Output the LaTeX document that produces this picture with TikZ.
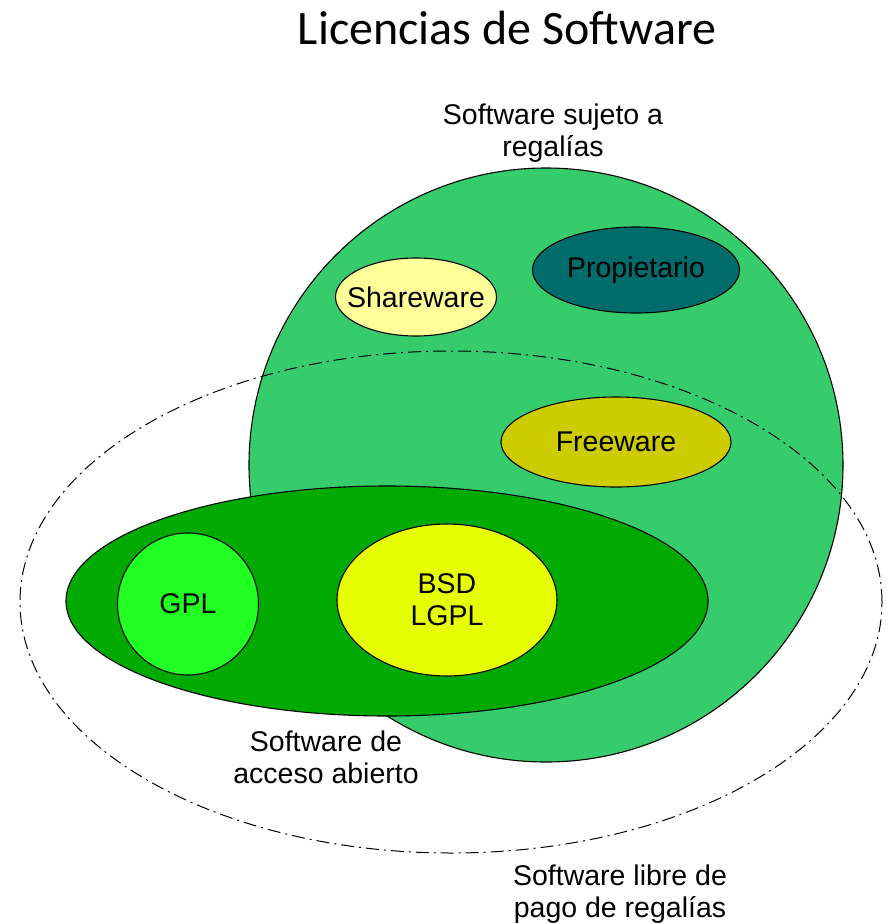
\documentclass[tikz,border=0pt]{standalone}
\usepackage{fontspec}
\setmainfont{Liberation Sans}
\newfontfamily\titlefont{Carlito}
\usetikzlibrary{shapes.geometric}
\definecolor{bigG}{HTML}{36CC6C}
\definecolor{darkG}{HTML}{00AA00}
\definecolor{gplG}{HTML}{22FF22}
\definecolor{bsdY}{HTML}{E5FF00}
\definecolor{freeY}{HTML}{CCCC00}
\definecolor{shareY}{HTML}{FFFF99}
\definecolor{propT}{HTML}{006B6B}
\tikzset{
  blob/.style={ellipse, draw=black, line width=1.1pt, inner sep=0pt},
  lbl/.style={align=center, font=\fontsize{28.5}{32}\selectfont, inner sep=0pt},
  dashdot/.style={draw=black, line width=1pt, dash pattern=on 13pt off 5pt on 2pt off 5pt}
}
\begin{document}
\begin{tikzpicture}[x=1pt,y=-1pt]
\useasboundingbox (0,0) rectangle (891,924);
\node[blob, fill=bigG, minimum width=594pt, minimum height=594pt] (sujeto) at (546,465) {};
\node[blob, fill=darkG, minimum width=642pt, minimum height=230pt] (abierto) at (387,601) {};
\node[blob, fill=gplG, minimum width=141pt, minimum height=142pt] (gpl) at (188,604) {};
\node[blob, fill=bsdY, minimum width=220pt, minimum height=152pt] (bsd) at (447,600) {};
\node[blob, fill=freeY, minimum width=230pt, minimum height=90pt] (free) at (616,442) {};
\node[blob, fill=shareY, minimum width=161pt, minimum height=78pt] (share) at (416,297) {};
\node[blob, fill=propT, minimum width=207pt, minimum height=86pt] (prop) at (636,270) {};
\node[lbl] (tgpl) at (gpl.center) {GPL};
\node[lbl] (tbsd) at (bsd.center) {BSD\\LGPL};
\node[lbl] (tfree) at (free.center) {Freeware};
\node[lbl] (tshare) at (share.center) {Shareware};
\node[lbl] (tprop) at (prop.center) {Propietario};
\node[ellipse, dashdot, inner sep=0pt, minimum width=862pt, minimum height=502pt] (libre) at (451,602) {};
\node[font=\titlefont\fontsize{48}{56}\selectfont, inner sep=0pt] (title) at (507,28) {Licencias de Software};
\node[lbl] (lsujeto) at (553,133) {Software sujeto a\\regalías};
\node[lbl] (labierto) at (326,757) {Software de\\acceso abierto};
\node[lbl] (llibre) at (620,894) {Software libre de\\pago de regalías};
\end{tikzpicture}
\end{document}
